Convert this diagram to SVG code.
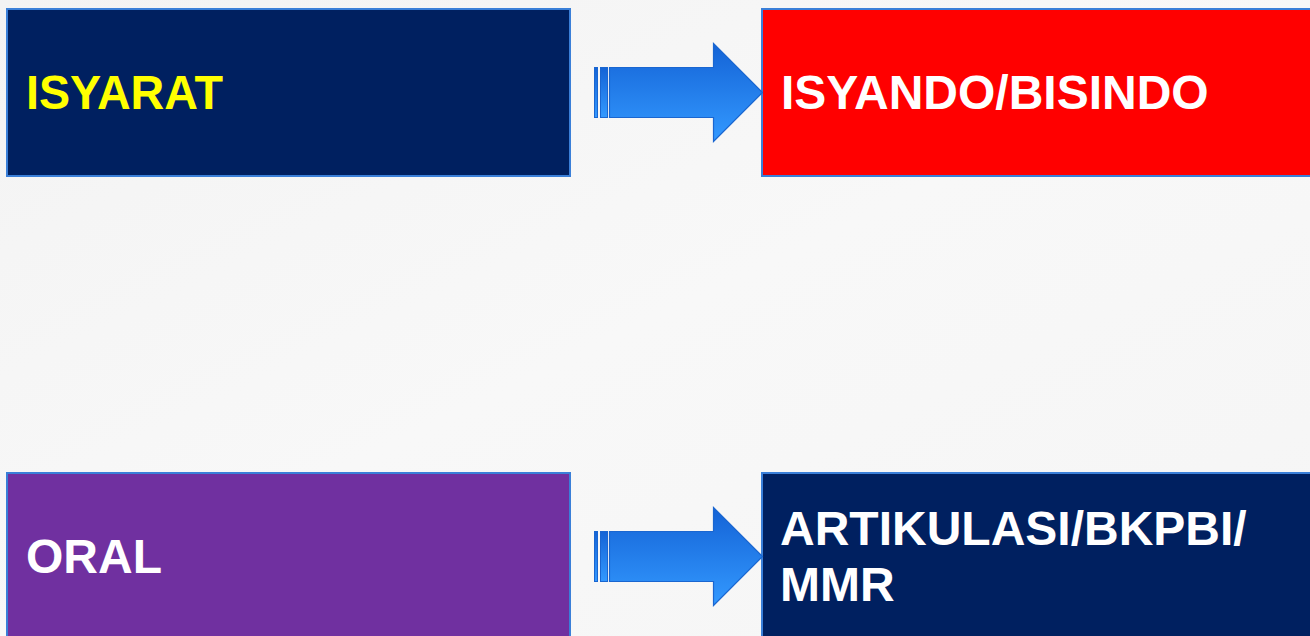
<svg xmlns="http://www.w3.org/2000/svg" width="1310" height="636" viewBox="0 0 1310 636">
<defs>
<linearGradient id="bg" x1="0" y1="0" x2="1" y2="1">
<stop offset="0" stop-color="#f3f3f3"/>
<stop offset="0.5" stop-color="#f8f8f8"/>
<stop offset="1" stop-color="#f5f5f5"/>
</linearGradient>
<linearGradient id="arr" x1="0" y1="0" x2="0" y2="1">
<stop offset="0" stop-color="#1463d6"/>
<stop offset="1" stop-color="#3399ff"/>
</linearGradient>
<g id="arrowShape">
<rect x="594.5" y="0" width="3" height="50" fill="url(#arr)" stroke="#1a66d0" stroke-width="1"/>
<rect x="600.5" y="0" width="7" height="50" fill="url(#arr)" stroke="#1a66d0" stroke-width="1"/>
<path d="M609.5 0 H713.5 V-24 L762.5 25 L713.5 74 V50 H609.5 Z" fill="url(#arr)" stroke="#1a66d0" stroke-width="1.2" stroke-linejoin="miter"/>
</g>
</defs>
<style>
.box{stroke:#3a7fd8;stroke-width:2}
.t{font-family:"Liberation Sans",Arial,sans-serif;font-weight:bold;font-size:48px}
</style>
<rect width="1310" height="636" fill="url(#bg)"/>
<g id="node-isyarat">
<rect class="box" x="7" y="9" width="563" height="167" fill="#002060"/>
<text class="t" x="26" y="108.5" fill="#ffff00" textLength="197" lengthAdjust="spacingAndGlyphs">ISYARAT</text>
</g>
<g id="node-isyando">
<rect class="box" x="762" y="9" width="560" height="167" fill="#ff0000"/>
<text class="t" x="781" y="108.5" fill="#ffffff">ISYANDO/BISINDO</text>
</g>
<g id="node-oral">
<rect class="box" x="7" y="473" width="563" height="180" fill="#7030a0"/>
<text class="t" x="26" y="572.5" fill="#ffffff">ORAL</text>
</g>
<g id="node-artikulasi">
<rect class="box" x="762" y="473" width="560" height="180" fill="#002060"/>
<text class="t" fill="#ffffff"><tspan x="780" y="545">ARTIKULASI/BKPBI/</tspan><tspan x="780" y="601">MMR</tspan></text>
</g>
<g id="connectors">
<use href="#arrowShape" transform="translate(0,67.5)"/>
<use href="#arrowShape" transform="translate(0,531.5)"/>
</g>
</svg>
